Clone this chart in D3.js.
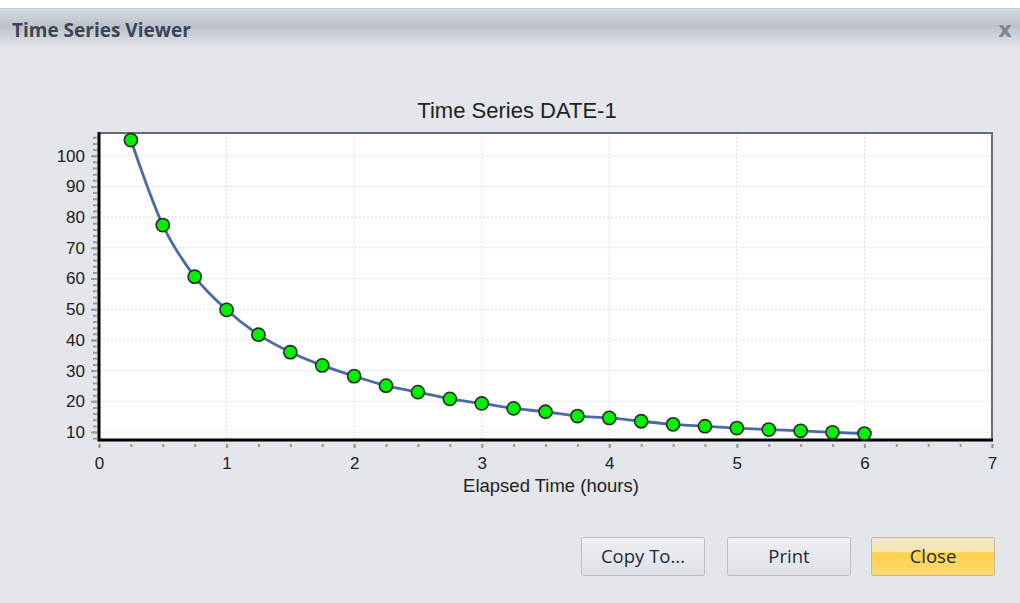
<!DOCTYPE html>
<html>
<head>
<meta charset="utf-8">
<script src="https://cdn.jsdelivr.net/npm/d3@7"></script>
<style>
  body { margin: 0; background: #e3e6ea; }
  svg { display: block; }
</style>
</head>
<body>
<svg id="chart"></svg>
<script>
// data
const hours = [0.25, 0.5, 0.75, 1, 1.25, 1.5, 1.75, 2, 2.25, 2.5, 2.75, 3,
  3.25, 3.5, 3.75, 4, 4.25, 4.5, 4.75, 5, 5.25, 5.5, 5.75, 6];
const values = [105.1, 77.4, 60.6, 49.8, 41.7, 36.0, 31.7, 28.2, 25.1, 23.0, 20.8, 19.3,
  17.7, 16.6, 15.2, 14.6, 13.5, 12.5, 11.9, 11.3, 10.8, 10.4, 9.9, 9.5];
const xTicks = [0, 1, 2, 3, 4, 5, 6, 7];
const yTicks = [10, 20, 30, 40, 50, 60, 70, 80, 90, 100];
const buttonLabels = ["Copy To...", "Print", "Close"];

const FONT = '"Liberation Sans", Arial, sans-serif';
const UI_FONT = '"Open Sans", sans-serif';

class TimeSeriesViewer {

  constructor(_config, _data) {
    this.config = {
      parentElement: _config.parentElement,
      containerWidth: _config.containerWidth || 1020,
      containerHeight: _config.containerHeight || 603,
      margin: { top: 133, bottom: 163, right: 28, left: 99 }
    }
    this.data = _data;
    this.initVis();
  }

  initVis() {
    let vis = this;
    vis.width = vis.config.containerWidth - vis.config.margin.left - vis.config.margin.right;
    vis.height = vis.config.containerHeight - vis.config.margin.top - vis.config.margin.bottom;

    vis.svg = d3.select(vis.config.parentElement)
      .attr('width', vis.config.containerWidth)
      .attr('height', vis.config.containerHeight)
      .style('font-family', FONT);

    let defs = vis.svg.append('defs');
    let bar = defs.append('linearGradient').attr('id', 'titlebar').attr('x1', 0).attr('y1', 0).attr('x2', 0).attr('y2', 1);
    bar.append('stop').attr('offset', '0%').attr('stop-color', '#d9dce1');
    bar.append('stop').attr('offset', '45%').attr('stop-color', '#bcc2cb');
    bar.append('stop').attr('offset', '100%').attr('stop-color', '#e3e6ea');
    let btn = defs.append('linearGradient').attr('id', 'btn').attr('x1', 0).attr('y1', 0).attr('x2', 0).attr('y2', 1);
    btn.append('stop').attr('offset', '0%').attr('stop-color', '#eef0f3');
    btn.append('stop').attr('offset', '100%').attr('stop-color', '#dde1e6');
    let hot = defs.append('linearGradient').attr('id', 'btnhot').attr('x1', 0).attr('y1', 0).attr('x2', 0).attr('y2', 1);
    hot.append('stop').attr('offset', '0%').attr('stop-color', '#f1ead2');
    hot.append('stop').attr('offset', '38%').attr('stop-color', '#f7e3a8');
    hot.append('stop').attr('offset', '40%').attr('stop-color', '#ffd24d');
    hot.append('stop').attr('offset', '100%').attr('stop-color', '#fbd972');

    // window frame
    vis.svg.append('rect')
      .attr('width', vis.config.containerWidth).attr('height', vis.config.containerHeight)
      .attr('fill', '#e3e6ea');
    vis.svg.append('rect')
      .attr('width', vis.config.containerWidth).attr('height', 8)
      .attr('fill', '#ffffff');
    vis.svg.append('rect')
      .attr('y', 8).attr('width', vis.config.containerWidth).attr('height', 40)
      .attr('fill', 'url(#titlebar)');
    vis.svg.append('line')
      .attr('x1', 0).attr('x2', vis.config.containerWidth).attr('y1', 8.5).attr('y2', 8.5)
      .attr('stroke', '#c9cdd3');
    vis.svg.append('text')
      .attr('x', 12).attr('y', 37)
      .attr('font-weight', 'bold')
      .style('font-family', UI_FONT)
      .style('font-size', '19px')
      .attr('fill', '#3a4556')
      .text('Time Series Viewer');
    vis.svg.append('text')
      .attr('x', 1005).attr('y', 37)
      .attr('text-anchor', 'middle')
      .attr('font-weight', 'bold')
      .style('font-family', '"DejaVu Sans", sans-serif')
      .style('font-size', '21px')
      .attr('fill', '#7f8691')
      .text('x');

    vis.chart = vis.svg.append('g')
      .attr('transform', `translate(${vis.config.margin.left},${vis.config.margin.top})`);

    vis.chart.append('rect')
      .attr('width', vis.width).attr('height', vis.height)
      .attr('fill', '#ffffff');

    vis.xScale = d3.scaleLinear().domain([0, 7]).range([0, vis.width]);
    vis.yScale = d3.scaleLinear().domain([7.4, 107.4]).range([vis.height, 0]);

    // dotted grid
    vis.chart.append('g').selectAll('line')
      .data(xTicks.slice(1, -1))
      .join('line')
        .attr('x1', d => vis.xScale(d)).attr('x2', d => vis.xScale(d))
        .attr('y1', 0).attr('y2', vis.height)
        .attr('stroke', '#dcdcdc').attr('stroke-dasharray', '2,2');
    vis.chart.append('g').selectAll('line')
      .data(yTicks)
      .join('line')
        .attr('x1', 0).attr('x2', vis.width)
        .attr('y1', d => vis.yScale(d)).attr('y2', d => vis.yScale(d))
        .attr('stroke', '#dcdcdc').attr('stroke-dasharray', '2,2');

    // minor ticks
    let xMinor = d3.range(0, 7.01, 0.25);
    let yMinor = d3.range(8, 107, 2);
    vis.chart.append('g')
      .attr('transform', `translate(0, ${vis.height})`)
      .call(d3.axisBottom(vis.xScale).tickValues(xMinor).tickSize(7).tickFormat(''))
      .call(g => g.select('.domain').remove())
      .call(g => g.selectAll('.tick line').attr('stroke', '#999').attr('stroke-width', 2).attr('stroke-dasharray', '0,4,3'));
    vis.chart.append('g')
      .call(d3.axisLeft(vis.yScale).tickValues(yMinor).tickSize(6).tickFormat(''))
      .call(g => g.select('.domain').remove())
      .call(g => g.selectAll('.tick line').attr('stroke', '#999').attr('stroke-width', 2).attr('stroke-dasharray', '0,2,4'));

    // major ticks + labels
    vis.chart.append('g')
      .attr('transform', `translate(0, ${vis.height})`)
      .call(d3.axisBottom(vis.xScale).tickValues(xTicks).tickSize(8).tickPadding(9).tickFormat(d3.format('d')))
      .call(g => g.select('.domain').remove())
      .call(g => g.selectAll('.tick line').attr('stroke', '#999').attr('stroke-width', 2).attr('stroke-dasharray', '0,4,4'))
      .call(g => g.selectAll('.tick text').attr('fill', '#222').style('font-size', '17px').attr('font-family', FONT));
    vis.chart.append('g')
      .call(d3.axisLeft(vis.yScale).tickValues(yTicks).tickSize(8).tickPadding(6))
      .call(g => g.select('.domain').remove())
      .call(g => g.selectAll('.tick line').attr('stroke', '#999').attr('stroke-width', 2).attr('stroke-dasharray', '0,2,6'))
      .call(g => g.selectAll('.tick text').attr('fill', '#222').style('font-size', '17px').attr('font-family', FONT));

    // frame: grey top/right, black left/bottom
    vis.chart.append('path')
      .attr('d', `M0,0H${vis.width}V${vis.height}`)
      .attr('fill', 'none').attr('stroke', '#6b6b6b').attr('stroke-width', 2);
    vis.chart.append('path')
      .attr('d', `M0,-1V${vis.height}H${vis.width + 1}`)
      .attr('fill', 'none').attr('stroke', '#000').attr('stroke-width', 3);

    vis.svg.append('text')
      .attr('x', 517).attr('y', 118)
      .attr('text-anchor', 'middle')
      .style('font-size', '22px')
      .attr('fill', '#222')
      .text('Time Series DATE-1');

    vis.svg.append('text')
      .attr('x', 551).attr('y', 492)
      .attr('text-anchor', 'middle')
      .style('font-size', '18.5px')
      .attr('fill', '#222')
      .text('Elapsed Time (hours)');

    // buttons
    let bx = [581, 727, 871];
    vis.svg.selectAll('.btn')
      .data(buttonLabels)
      .join('g')
        .attr('class', 'btn')
        .attr('transform', (d, i) => `translate(${bx[i]}, 537)`)
        .each(function(d, i) {
          let g = d3.select(this);
          g.append('rect')
            .attr('x', 0.5).attr('y', 0.5).attr('width', 123).attr('height', 38).attr('rx', 2)
            .attr('fill', i === 2 ? 'url(#btnhot)' : 'url(#btn)')
            .attr('stroke', i === 2 ? '#c7b98e' : '#b9bec6');
          g.append('text')
            .attr('x', 62).attr('y', 26)
            .attr('text-anchor', 'middle')
            .style('font-family', UI_FONT)
            .style('font-size', '18.5px')
            .attr('fill', '#1e2a3a')
            .text(d);
        });

    vis.updateVis();
  }

  updateVis() {
    let vis = this;

    let line = d3.line()
      .x(d => vis.xScale(d.t))
      .y(d => vis.yScale(d.v))
      .curve(d3.curveMonotoneX);

    vis.chart.append('path')
      .datum(vis.data)
      .attr('d', line)
      .attr('fill', 'none')
      .attr('stroke', '#4a6aa5')
      .attr('stroke-width', 2.8);

    vis.chart.selectAll('.pt')
      .data(vis.data)
      .join('circle')
        .attr('class', 'pt')
        .attr('cx', d => vis.xScale(d.t))
        .attr('cy', d => vis.yScale(d.v))
        .attr('r', 6.6)
        .attr('fill', '#00f000')
        .attr('stroke', '#2a2a2a')
        .attr('stroke-width', 1.6);
  }
}

let series = hours.map((t, i) => ({ t: t, v: values[i] }));
new TimeSeriesViewer({ parentElement: '#chart' }, series);
</script>
</body>
</html>
